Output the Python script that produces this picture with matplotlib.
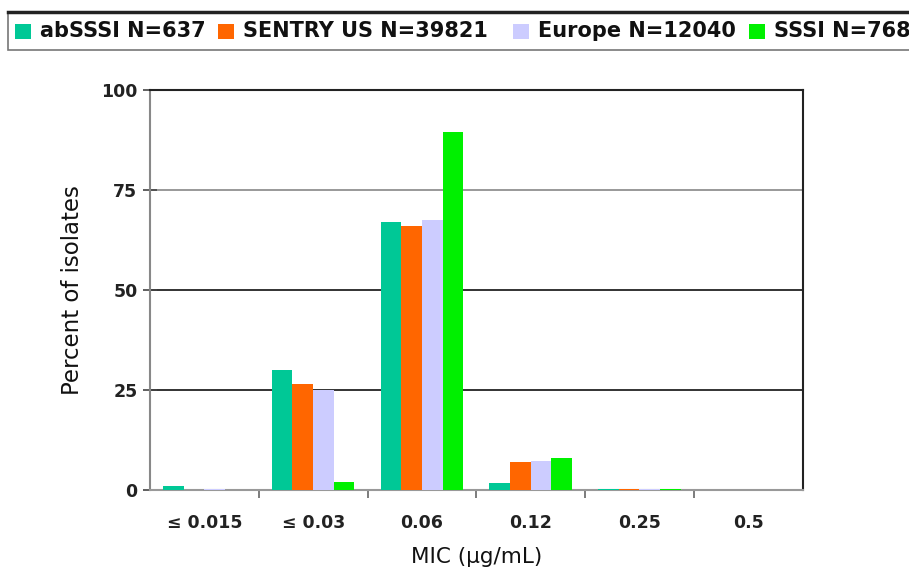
import numpy as np
import matplotlib.pyplot as plt
from matplotlib.patches import Rectangle
from matplotlib.lines import Line2D

plt.rcParams['font.family'] = ['DejaVu Sans']

# MIC categories and series values (percent of isolates)
categories = ['≤ 0.015', '≤ 0.03', '0.06', '0.12', '0.25', '0.5']
series_names = ['abSSSI N=637', 'SENTRY US N=39821', 'Europe N=12040', 'SSSI N=768']
absssi = [1.0, 30.0, 67.0, 1.8, 0.3, 0.0]
sentry_us = [0.1, 26.5, 66.0, 7.0, 0.3, 0.0]
europe = [0.2, 25.0, 67.5, 7.2, 0.3, 0.0]
sssi = [0.0, 2.0, 89.5, 8.0, 0.3, 0.0]
colors = ['#00C896', '#FF6600', '#CCCCFF', '#00F000']

values = [absssi, sentry_us, europe, sssi]

W, H = 909, 574
fig = plt.figure(figsize=(W / 100, H / 100), dpi=100)
ax = fig.add_axes([0.165, 0.1463, 0.718, 0.697])

x = np.arange(len(categories))
w = 0.19
for i, (vals, c) in enumerate(zip(values, colors)):
    ax.bar(x + (i - 1.5) * w, vals, width=w, color=c, zorder=3)

ax.set_xlim(-0.5, len(categories) - 0.5)
ax.set_ylim(0, 100)
ax.set_yticks([0, 25, 50, 75, 100])
ax.set_xticks(x)
ax.set_xticklabels(categories, fontsize=12.5, fontweight='bold', color='#222222')
ax.set_xticks(np.arange(0.5, len(categories) - 0.5, 1), minor=True)
ax.tick_params(axis='x', which='major', length=0, pad=17)
ax.tick_params(axis='x', which='minor', length=6, width=1.2, color='#666666', direction='out')
ax.tick_params(axis='y', length=10, width=1.2, direction='inout', color='#444444',
               labelsize=12.5, pad=4)
for lab in ax.get_yticklabels():
    lab.set_fontweight('bold')
    lab.set_color('#222222')

for yv, col in [(25, '#111111'), (50, '#111111'), (75, '#888888')]:
    ax.axhline(yv, color=col, lw=1.2, zorder=1)

ax.spines['left'].set_color('#888888')
ax.spines['bottom'].set_color('#999999')
ax.spines['right'].set_color('#222222')
ax.spines['top'].set_color('#222222')
for s in ax.spines.values():
    s.set_linewidth(1.5)

ax.set_ylabel('Percent of isolates', fontsize=16.5, color='#111111', labelpad=12)
ax.set_xlabel('MIC (µg/mL)', fontsize=15.5, color='#111111', labelpad=11)

# legend box across the top, drawn by hand (pixel layout)
fig.add_artist(Rectangle((8 / W, 1 - 50 / H), 1.0, 38 / H, transform=fig.transFigure,
                         facecolor='white', edgecolor='#777777', lw=1.2))
fig.add_artist(Line2D([8 / W, 1.0], [1 - 12 / H, 1 - 12 / H], transform=fig.transFigure,
                      color='#222222', lw=2.5))
leg_x = [15, 218, 513, 749]
for px, name, c in zip(leg_x, series_names, colors):
    fig.add_artist(Rectangle((px / W, 1 - 39 / H), 16 / W, 15 / H,
                             transform=fig.transFigure, facecolor=c, edgecolor='none'))
    fig.text((px + 25) / W, 1 - 31 / H, name, fontsize=15, fontweight='bold',
             color='#111111', va='center', ha='left')

fig.savefig('out.png', dpi=100)
